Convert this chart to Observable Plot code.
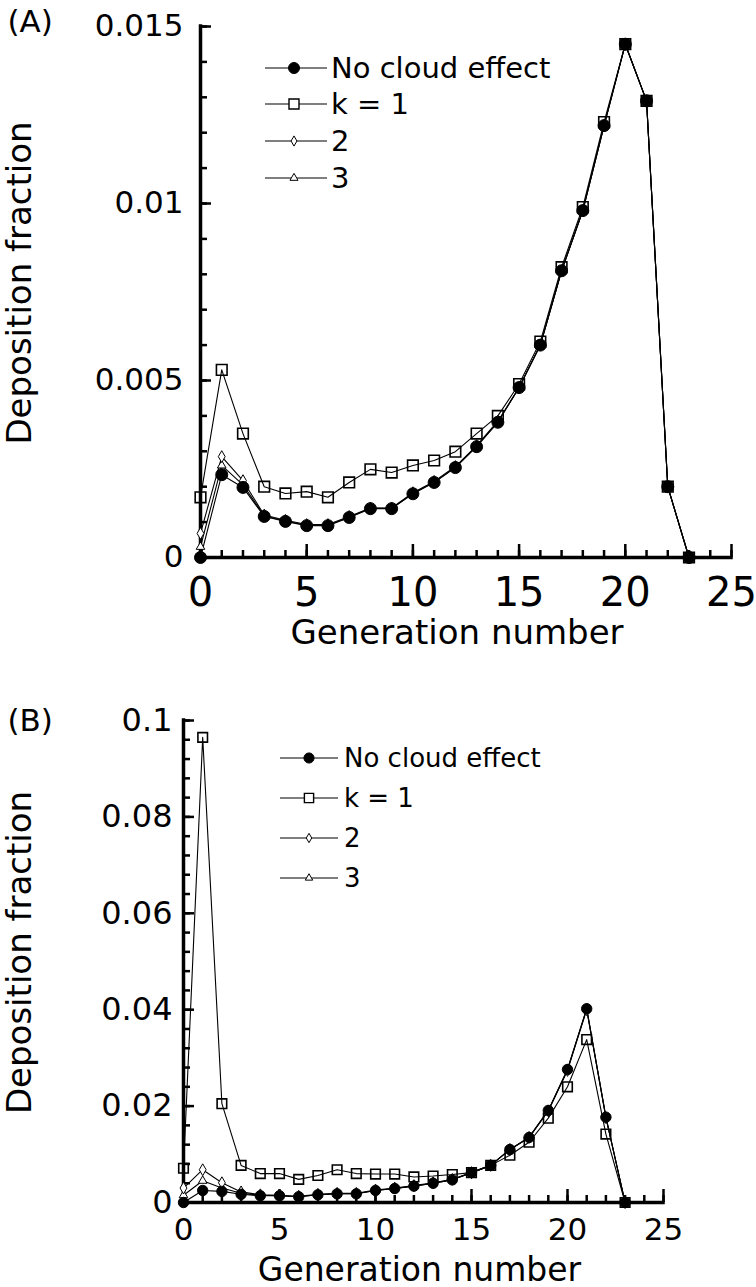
<!DOCTYPE html>
<html>
<head>
<meta charset="utf-8">
<script src="https://cdn.jsdelivr.net/npm/d3@7"></script>
<script src="https://cdn.jsdelivr.net/npm/@observablehq/plot@0.6"></script>
<style>
  body { margin: 0; background: #fff; }
  #wrap { position: relative; width: 756px; height: 1287px; background: #fff; }
  #wrap > svg { display: block; }
  #legend { position: absolute; left: 0; top: 0; pointer-events: none; }
</style>
</head>
<body>
<div id="wrap"></div>
<script>
// ---------- data ----------
const generations = [0,1,2,3,4,5,6,7,8,9,10,11,12,13,14,15,16,17,18,19,20,21,22,23];
const seriesNames = ["No cloud effect", "k = 1", "2", "3"];

// Panel A
const noCloudA = [0, 0.00234, 0.00198, 0.00116, 0.00102, 0.0009, 0.0009, 0.00113, 0.00138, 0.00138, 0.0018, 0.00212, 0.00254, 0.00313, 0.00382, 0.0048, 0.006, 0.0081, 0.0098, 0.0122, 0.0145, 0.0129, 0.002, 0];
const k1A      = [0.0017, 0.0053, 0.0035, 0.002, 0.00181, 0.00186, 0.0017, 0.00212, 0.00249, 0.0024, 0.0026, 0.00274, 0.00299, 0.0035, 0.004, 0.0049, 0.0061, 0.0082, 0.0099, 0.0123, 0.0145, 0.0129, 0.002, 0];
const k2A      = [0.00068, 0.00285, 0.00217, 0.0012, 0.00105, 0.00093, 0.00093, 0.00116, 0.0014, 0.0014, 0.00183, 0.00215, 0.00257, 0.00316, 0.00385, 0.0048, 0.006, 0.0081, 0.0098, 0.0122, 0.0145, 0.0129, 0.002, 0];
const k3A      = [0.0003, 0.0026, 0.00205, 0.00118, 0.00103, 0.00091, 0.00091, 0.00114, 0.00139, 0.00139, 0.00181, 0.00213, 0.00255, 0.00314, 0.00383, 0.0048, 0.006, 0.0081, 0.0098, 0.0122, 0.0145, 0.0129, 0.002, 0];

// Panel B
const noCloudB = [0, 0.0025, 0.0023, 0.0017, 0.0014, 0.0014, 0.0012, 0.0016, 0.0018, 0.0018, 0.0025, 0.0029, 0.0034, 0.004, 0.0047, 0.0062, 0.0077, 0.011, 0.0135, 0.0191, 0.0276, 0.0402, 0.0177, 0];
const k1B      = [0.0071, 0.0965, 0.0205, 0.0077, 0.006, 0.006, 0.0048, 0.0056, 0.0068, 0.006, 0.0059, 0.0059, 0.0053, 0.0055, 0.0058, 0.0062, 0.0077, 0.0098, 0.0125, 0.0175, 0.024, 0.0338, 0.0142, 0];
const k2B      = [0.003, 0.0068, 0.0041, 0.0022, 0.0016, 0.0015, 0.0013, 0.0017, 0.0019, 0.0019, 0.0026, 0.003, 0.0035, 0.0041, 0.0048, 0.0062, 0.0077, 0.011, 0.0135, 0.019, 0.0274, 0.04, 0.0176, 0];
const k3B      = [0.0015, 0.0045, 0.003, 0.0019, 0.0015, 0.0014, 0.0012, 0.0016, 0.0018, 0.0018, 0.0025, 0.0029, 0.0034, 0.004, 0.0047, 0.0062, 0.0077, 0.011, 0.0135, 0.0191, 0.0276, 0.0402, 0.0177, 0];

// ticks
const xMajor = [0, 5, 10, 15, 20, 25];
const xMinor = d3.range(0, 26);
const yMajorA = [0, 0.005, 0.01, 0.015];
const yMinorA = d3.range(0, 16).map(i => i / 1000);
const yMajorB = [0, 0.02, 0.04, 0.06, 0.08, 0.1];
const yMinorB = d3.range(0, 26).map(i => +(i * 0.004).toFixed(3));

const xLabel = "Generation number";
const yLabel = "Deposition fraction";
const panelLabels = ["(A)", "(B)"];

const FONT = "DejaVu Sans";

function rowsOf(seriesValues) {
  const rows = [];
  seriesNames.forEach((s, j) => seriesValues[j].forEach((v, i) => rows.push({g: generations[i], v, s})));
  return rows;
}

function panel(cfg) {
  const rows = rowsOf(cfg.series);
  const by = name => rows.filter(d => d.s === name);
  return Plot.plot({
    width: 756,
    height: cfg.height,
    marginLeft: cfg.ml, marginRight: cfg.mr, marginTop: cfg.mt, marginBottom: cfg.mb,
    x: {domain: [0, 25]},
    y: {domain: cfg.yDomain},
    style: {fontFamily: FONT, color: "black", background: "white", overflow: "visible"},
    marks: [
      // minor + major ticks (inward)
      Plot.axisX(xMinor, {anchor: "bottom", tickSize: -7, strokeWidth: 2.5, tickFormat: () => "", label: null}),
      Plot.axisX(xMajor, {anchor: "bottom", tickSize: -13, strokeWidth: 2.5, tickFormat: () => "", label: null}),
      Plot.axisX(xMajor, {anchor: "bottom", tickSize: 0, tickPadding: cfg.xPad, fontSize: cfg.xFont, tickFormat: d => `${d}`, label: null}),
      Plot.axisY(cfg.yMinor, {anchor: "left", tickSize: -7, strokeWidth: 2.5, tickFormat: () => "", label: null}),
      Plot.axisY(cfg.yMajor, {anchor: "left", tickSize: -11, strokeWidth: 2.5, tickFormat: () => "", label: null}),
      Plot.axisY(cfg.yMajor, {anchor: "left", tickSize: 0, tickPadding: cfg.yPad, fontSize: cfg.yFont, tickFormat: d => `${d}`, label: null}),
      // axis lines
      Plot.ruleY([0], {strokeWidth: 3.5, strokeLinecap: "square"}),
      Plot.ruleX([0], {strokeWidth: 3.5, strokeLinecap: "square"}),
      // series lines
      Plot.line(rows, {x: "g", y: "v", z: "s", stroke: "black", strokeWidth: 1.1}),
      // markers
      Plot.dot(by("3"), {x: "g", y: "v", symbol: "triangle", r: 3.2, stroke: "black", fill: "white", strokeWidth: 1}),
      Plot.dot(by("2"), {x: "g", y: "v", symbol: "diamond", r: 3.6, stroke: "black", fill: "white", strokeWidth: 1}),
      Plot.dot(by("k = 1"), {x: "g", y: "v", symbol: "square", r: cfg.sqR, stroke: "black", fill: "none", strokeWidth: 1.6}),
      Plot.dot(by("No cloud effect"), {x: "g", y: "v", symbol: "circle", r: cfg.cR, fill: "black", stroke: "black", strokeWidth: 1}),
      // axis titles and panel tag
      Plot.text([xLabel], {text: d => d, frameAnchor: "bottom", dx: cfg.xLabDx, dy: cfg.xLabDy, lineAnchor: "middle", textAnchor: "middle", fontSize: cfg.labFont}),
      Plot.text([yLabel], {text: d => d, frameAnchor: "left", rotate: -90, dx: cfg.yLabDx, dy: cfg.yLabDy, lineAnchor: "middle", textAnchor: "middle", fontSize: 34}),
      Plot.text([cfg.tag], {text: d => d, frameAnchor: "top-left", dx: cfg.tagDx, dy: cfg.tagDy, lineAnchor: "middle", textAnchor: "start", fontSize: 31})
    ]
  });
}

const wrap = document.getElementById("wrap");

wrap.appendChild(panel({
  series: [noCloudA, k1A, k2A, k3A],
  height: 665, ml: 200, mr: 25, mt: 26, mb: 108,
  yDomain: [0, 0.015], yMajor: yMajorA, yMinor: yMinorA,
  xPad: 20, xFont: 40, yPad: 17, yFont: 31,
  sqR: 6.0, cR: 6.0,
  labFont: 34, xLabDx: -9, xLabDy: 76, yLabDx: -180, yLabDy: -9,
  tag: panelLabels[0], tagDx: -193, tagDy: -4
}));

wrap.appendChild(panel({
  series: [noCloudB, k1B, k2B, k3B],
  height: 622, ml: 183, mr: 93, mt: 55, mb: 85,
  yDomain: [0, 0.1], yMajor: yMajorB, yMinor: yMinorB,
  xPad: 15, xFont: 31, yPad: 11, yFont: 32,
  sqR: 5.4, cR: 5.2,
  labFont: 33, xLabDx: -4, xLabDy: 68, yLabDx: -163, yLabDy: -9,
  tag: panelLabels[1], tagDx: -176, tagDy: 1
}));

// ---------- legends (overlay) ----------
const legendSvg = d3.select(wrap).append("svg")
  .attr("id", "legend").attr("width", 756).attr("height", 1287)
  .style("font-family", FONT);

const legendSymbols = [
  {type: d3.symbolCircle, size: Math.PI * 5.5 * 5.5, fill: "black", sw: 1},
  {type: d3.symbolSquare, size: 100, fill: "white", sw: 1.4},
  {type: d3.symbolDiamond, size: 30, fill: "white", sw: 1},
  {type: d3.symbolTriangle, size: 28, fill: "white", sw: 1}
];

function drawLegend({x0, x1, xm, xt, rows, fontSize, scale}) {
  const g = legendSvg.append("g");
  seriesNames.forEach((name, i) => {
    const y = rows[i];
    g.append("line").attr("x1", x0).attr("x2", x1).attr("y1", y).attr("y2", y)
      .attr("stroke", "black").attr("stroke-width", 1.2);
    const s = legendSymbols[i];
    g.append("path").attr("transform", `translate(${xm},${y})`)
      .attr("d", d3.symbol(s.type, s.size * scale)())
      .attr("fill", s.fill).attr("stroke", "black").attr("stroke-width", s.sw);
    g.append("text").attr("x", xt).attr("y", y).attr("dy", "0.36em")
      .attr("font-size", fontSize).attr("fill", "black").text(name);
  });
}

drawLegend({x0: 265, x1: 327, xm: 294, xt: 331, rows: [68, 104, 141, 178], fontSize: 29, scale: 1});
drawLegend({x0: 280, x1: 338, xm: 309, xt: 344, rows: [758, 798, 838, 878], fontSize: 26, scale: 0.85});
</script>
</body>
</html>
